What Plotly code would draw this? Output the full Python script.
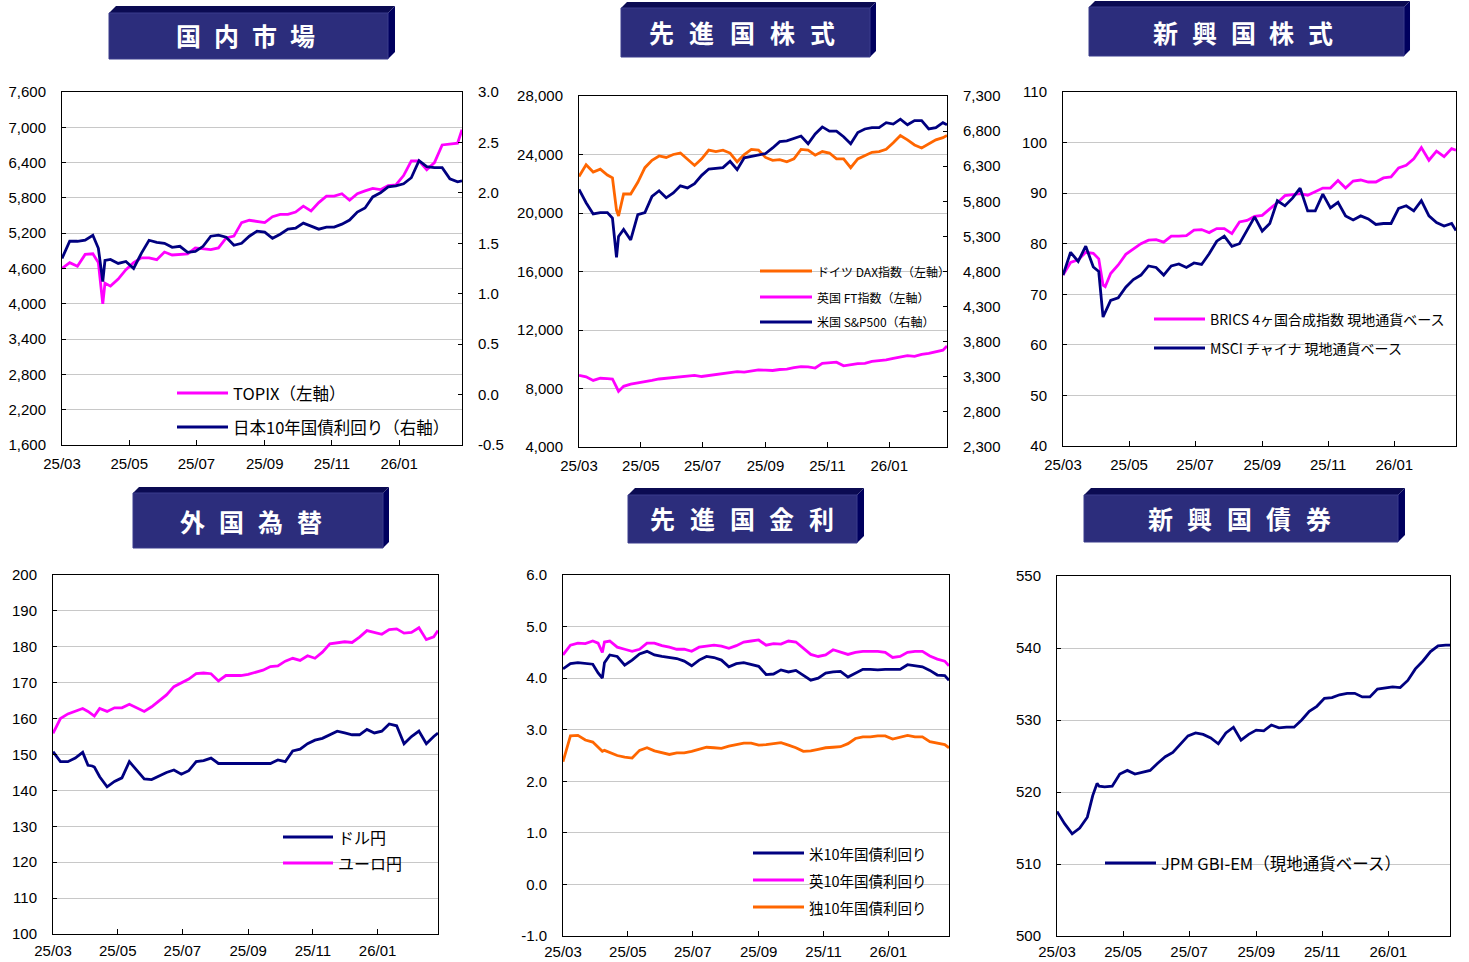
import plotly.graph_objects as go

# ---------------- data ----------------
dates = [
    "2025-03-01", "2025-03-08", "2025-03-15", "2025-03-22", "2025-03-29",
    "2025-04-03", "2025-04-07", "2025-04-09", "2025-04-14", "2025-04-21",
    "2025-04-28", "2025-05-05", "2025-05-12", "2025-05-19", "2025-05-26",
    "2025-06-02", "2025-06-09", "2025-06-16", "2025-06-23", "2025-06-30",
    "2025-07-07", "2025-07-14", "2025-07-21", "2025-07-28", "2025-08-04",
    "2025-08-11", "2025-08-18", "2025-08-25", "2025-09-01", "2025-09-08",
    "2025-09-15", "2025-09-22", "2025-09-29", "2025-10-06", "2025-10-13",
    "2025-10-20", "2025-10-27", "2025-11-03", "2025-11-10", "2025-11-17",
    "2025-11-24", "2025-12-01", "2025-12-08", "2025-12-15", "2025-12-22",
    "2025-12-29", "2026-01-05", "2026-01-12", "2026-01-19", "2026-01-26",
    "2026-02-02", "2026-02-09", "2026-02-16", "2026-02-23", "2026-02-27",
]

topix = [4600, 4700, 4640, 4840, 4850, 4700, 4000, 4350, 4300, 4420,
         4580, 4700, 4780, 4780, 4750, 4880, 4830, 4840, 4850, 4950,
         4930, 4920, 4950, 5120, 5150, 5380, 5420, 5400, 5380, 5480,
         5520, 5520, 5560, 5660, 5580, 5720, 5830, 5830, 5870, 5760,
         5870, 5920, 5960, 5940, 6010, 6020, 6180, 6430, 6430, 6280,
         6400, 6700, 6720, 6730, 6960]
jgb10 = [1.35, 1.52, 1.52, 1.53, 1.58, 1.45, 1.12, 1.33, 1.34, 1.30,
         1.32, 1.25, 1.40, 1.53, 1.51, 1.50, 1.46, 1.47, 1.41, 1.42,
         1.47, 1.57, 1.58, 1.56, 1.48, 1.50, 1.57, 1.62, 1.61, 1.55,
         1.59, 1.64, 1.65, 1.70, 1.67, 1.64, 1.66, 1.66, 1.69, 1.73,
         1.81, 1.85, 1.96, 2.00, 2.06, 2.07, 2.09, 2.15, 2.32, 2.26,
         2.25, 2.25, 2.14, 2.11, 2.12]

dax = [22500, 23300, 22800, 23000, 22600, 22400, 20200, 19800, 21300, 21300,
       22100, 23100, 23600, 23900, 23800, 24000, 24100, 23700, 23250, 23700,
       24300, 24200, 24300, 24100, 23500, 24000, 24350, 24300, 23800, 23600,
       23650, 23500, 23700, 24350, 24300, 23950, 24200, 24100, 23700, 23700,
       23100, 23700, 23950, 24150, 24200, 24350, 24800, 25300, 25000, 24650,
       24450, 24750, 25000, 25150, 25300]
ftse = [8900, 8800, 8550, 8700, 8680, 8650, 8100, 7800, 8150, 8300,
        8380, 8450, 8550, 8650, 8700, 8750, 8800, 8830, 8900, 8820,
        8880, 8950, 9000, 9080, 9150, 9120, 9200, 9270, 9250, 9230,
        9300, 9330, 9420, 9500, 9480, 9400, 9720, 9750, 9800, 9550,
        9650, 9700, 9720, 9850, 9900, 9950, 10060, 10150, 10250, 10200,
        10330, 10400, 10500, 10620, 10900]
spx = [5970, 5780, 5620, 5640, 5640, 5560, 5000, 5300, 5400, 5250,
       5610, 5640, 5870, 5950, 5850, 5920, 6020, 5990, 6050, 6170,
       6260, 6270, 6280, 6370, 6250, 6420, 6440, 6450, 6480, 6560,
       6650, 6660, 6700, 6730, 6620, 6760, 6860, 6800, 6800, 6720,
       6620, 6780, 6830, 6850, 6850, 6920, 6900, 6970, 6890, 6950,
       6950, 6830, 6850, 6920, 6890]

brics = [73.8, 76.3, 76.8, 78.3, 78.1, 77.0, 71.8, 71.5, 74.1, 75.8,
         77.9, 79.0, 80.0, 80.7, 80.8, 80.3, 81.5, 81.5, 81.6, 82.7,
         82.8, 82.2, 83.0, 83.0, 82.0, 84.3, 84.6, 85.4, 85.6, 86.9,
         88.1, 89.5, 89.7, 89.9, 89.6, 90.3, 91.0, 91.0, 92.5, 91.0,
         92.4, 92.6, 92.2, 92.2, 93.0, 93.2, 95.0, 95.5, 96.8, 99.0,
         96.5, 98.3, 97.2, 98.8, 98.5]
msci_china = [73.8, 78.3, 76.5, 79.5, 75.4, 74.5, 65.5, 66.5, 68.8, 69.3,
              71.4, 72.9, 73.8, 75.6, 75.3, 73.8, 75.6, 76.0, 75.3, 76.2,
              75.9, 78.0, 80.5, 81.5, 79.5, 80.0, 82.6, 85.3, 82.5, 84.0,
              88.5, 87.5, 89.0, 91.0, 86.5, 86.5, 89.8, 87.1, 88.2, 85.5,
              84.7, 85.5, 84.9, 83.8, 84.0, 84.0, 87.0, 87.5, 86.5, 88.5,
              85.5, 84.2, 83.5, 84.0, 82.6]

usdjpy = [150.8, 148.0, 148.0, 149.0, 150.6, 147.0, 146.8, 146.5, 143.8, 141.0,
          142.5, 143.5, 148.0, 145.5, 143.2, 143.0, 144.0, 145.0, 145.7, 144.5,
          145.5, 148.0, 148.3, 149.0, 147.5, 147.5, 147.5, 147.4, 147.6, 147.5,
          147.4, 147.5, 148.5, 148.0, 151.0, 151.5, 153.0, 154.0, 154.5, 155.5,
          156.5, 156.0, 155.5, 155.5, 157.0, 156.0, 156.5, 158.5, 158.0, 153.0,
          155.0, 156.5, 153.0, 155.0, 156.0]
eurjpy = [155.9, 160.0, 161.3, 162.0, 162.8, 162.0, 161.0, 160.7, 162.8, 162.0,
          163.0, 163.0, 164.0, 163.0, 162.0, 163.3, 165.0, 166.6, 168.9, 169.9,
          171.0, 172.5, 172.7, 172.5, 170.5, 172.0, 172.0, 172.0, 172.3, 173.0,
          173.5, 174.5, 174.7, 176.0, 176.8, 176.2, 177.5, 176.8, 178.5, 180.8,
          181.1, 181.4, 181.2, 182.7, 184.5, 184.0, 183.5, 184.8, 185.0, 183.8,
          184.0, 185.3, 182.0, 182.8, 184.5]

us10y = [4.18, 4.28, 4.30, 4.28, 4.27, 4.10, 4.00, 4.30, 4.45, 4.42,
         4.25, 4.35, 4.47, 4.52, 4.45, 4.42, 4.40, 4.38, 4.33, 4.24,
         4.35, 4.42, 4.40, 4.35, 4.22, 4.28, 4.30, 4.26, 4.23, 4.07,
         4.08, 4.16, 4.12, 4.15, 4.05, 3.96, 4.00, 4.10, 4.12, 4.13,
         4.02, 4.10, 4.17, 4.17, 4.16, 4.17, 4.17, 4.17, 4.26, 4.24,
         4.22, 4.15, 4.06, 4.05, 3.96]
uk10y = [4.45, 4.64, 4.68, 4.67, 4.72, 4.68, 4.50, 4.70, 4.72, 4.60,
         4.56, 4.52, 4.56, 4.68, 4.68, 4.63, 4.60, 4.56, 4.56, 4.52,
         4.60, 4.62, 4.64, 4.62, 4.58, 4.63, 4.70, 4.72, 4.74, 4.64,
         4.67, 4.66, 4.72, 4.70, 4.58, 4.46, 4.42, 4.45, 4.55, 4.50,
         4.46, 4.50, 4.52, 4.52, 4.52, 4.50, 4.40, 4.42, 4.50, 4.52,
         4.52, 4.43, 4.37, 4.33, 4.24]
de10y = [2.38, 2.88, 2.89, 2.80, 2.76, 2.65, 2.58, 2.60, 2.56, 2.50,
         2.47, 2.45, 2.60, 2.65, 2.59, 2.56, 2.52, 2.55, 2.55, 2.58,
         2.62, 2.66, 2.65, 2.64, 2.68, 2.71, 2.74, 2.74, 2.70, 2.71,
         2.73, 2.75, 2.70, 2.65, 2.58, 2.59, 2.62, 2.65, 2.66, 2.67,
         2.73, 2.83, 2.86, 2.86, 2.88, 2.88, 2.82, 2.86, 2.89, 2.86,
         2.86, 2.77, 2.74, 2.71, 2.65]

gbi_em = [517.3, 515.6, 514.2, 515.0, 516.5, 519.5, 521.2, 520.8, 520.7, 520.8,
          522.5, 523.0, 522.5, 522.8, 523.0, 524.0, 524.9, 525.5, 526.6, 527.8,
          528.2, 528.0, 527.5, 526.7, 528.2, 529.0, 527.2, 528.0, 528.6, 528.5,
          529.3, 528.9, 529.0, 529.0, 530.0, 531.2, 531.9, 533.0, 533.1, 533.5,
          533.7, 533.7, 533.2, 533.2, 534.3, 534.5, 534.6, 534.5, 535.5, 537.1,
          538.2, 539.5, 540.3, 540.4, 540.4]

titles = ["国内市場", "先進国株式", "新興国株式", "外国為替", "先進国金利", "新興国債券"]
jgb_ticks = [3.0, 2.5, 2.0, 1.5, 1.0, 0.5, 0.0, -0.5]
rate_ticks = [6.0, 5.0, 4.0, 3.0, 2.0, 1.0, 0.0, -1.0]

# ---------------- styling / layout constants ----------------
W, H = 1469, 962
NAVY = "#000080"
MAGENTA = "#FF00FF"
ORANGE = "#FF6600"
GRID = "#C8C8C8"
TICKFONT = dict(family="Arial, 'Liberation Sans', sans-serif", size=15, color="black")
CJK = "'Noto Sans CJK JP', 'Noto Sans', sans-serif"
X_RANGE = ["2025-03-01", "2026-02-27"]


def fx(px):
    return px / W


def fy(py):
    return 1 - py / H


def xaxis(x0, x1, anchor, standoff=5):
    return dict(domain=[fx(x0), fx(x1)], anchor=anchor, type="date", range=X_RANGE,
                tickformat="%y/%m", dtick="M2", tick0="2025-03-01",
                ticks="inside", ticklen=5, tickcolor="black",
                showline=True, linecolor="black", linewidth=1, mirror=True,
                showgrid=False, zeroline=False, tickfont=TICKFONT,
                ticklabelstandoff=standoff, automargin=False)


def yaxis(y0, y1, anchor, rng, dtick, fmt=",d", **kw):
    d = dict(domain=[fy(y1), fy(y0)], anchor=anchor, range=rng, dtick=dtick,
             tick0=rng[0], tickformat=fmt, ticks="inside", ticklen=4, tickcolor="black",
             showline=True, linecolor="black", linewidth=1, mirror=True,
             showgrid=True, gridcolor=GRID, gridwidth=1, zeroline=False,
             tickfont=TICKFONT, ticklabelstandoff=12, automargin=False)
    d.update(kw)
    return d


fig = go.Figure()


def line(x, y, color, xa, ya):
    fig.add_trace(go.Scatter(x=x, y=y, mode="lines", xaxis=xa, yaxis=ya,
                             line=dict(color=color, width=2.8),
                             showlegend=False, hoverinfo="skip"))


# Panel 1: domestic
line(dates, topix, MAGENTA, "x", "y")
line(dates, jgb10, NAVY, "x", "y2")
# Panel 2: developed equities
line(dates, dax, ORANGE, "x2", "y3")
line(dates, ftse, MAGENTA, "x2", "y3")
line(dates, spx, NAVY, "x2", "y4")
# Panel 3: emerging equities
line(dates, brics, MAGENTA, "x3", "y5")
line(dates, msci_china, NAVY, "x3", "y5")
# Panel 4: FX
line(dates, usdjpy, NAVY, "x4", "y6")
line(dates, eurjpy, MAGENTA, "x4", "y6")
# Panel 5: developed rates
line(dates, us10y, NAVY, "x5", "y7")
line(dates, uk10y, MAGENTA, "x5", "y7")
line(dates, de10y, ORANGE, "x5", "y7")
# Panel 6: EM bonds
line(dates, gbi_em, NAVY, "x6", "y8")

layout = dict(
    width=W, height=H, margin=dict(l=0, r=0, t=0, b=0, autoexpand=False),
    paper_bgcolor="white", plot_bgcolor="white",
    font=dict(family="Arial, 'Liberation Sans', " + CJK, color="black"),
    showlegend=False,
    xaxis=xaxis(62, 462, "y"),
    yaxis=yaxis(92, 445, "x", [1600, 7600], 600),
    yaxis2=yaxis(92, 445, "x", [-0.5, 3.0], 0.5, overlaying="y", side="right",
                 showgrid=False, tickmode="array", tickvals=jgb_ticks,
                 ticktext=[f"{v:.1f}" for v in jgb_ticks], mirror=False),
    xaxis2=xaxis(579, 947, "y3"),
    yaxis3=yaxis(96, 447, "x2", [4000, 28000], 4000),
    yaxis4=yaxis(96, 447, "x2", [2300, 7300], 500, overlaying="y3", side="right",
                 showgrid=False, mirror=False),
    xaxis3=xaxis(1063, 1456, "y5"),
    yaxis5=yaxis(92, 446, "x3", [40, 110], 10),
    xaxis4=xaxis(53, 438, "y6", 3),
    yaxis6=yaxis(575, 934, "x4", [100, 200], 10),
    xaxis5=xaxis(563, 949, "y7", 2),
    yaxis7=yaxis(575, 936, "x5", [-1.0, 6.0], 1.0, tickmode="array",
                 tickvals=rate_ticks, ticktext=[f"{v:.1f}" for v in rate_ticks]),
    xaxis6=xaxis(1057, 1450, "y8", 2),
    yaxis8=yaxis(576, 936, "x6", [500, 550], 10),
)
fig.update_layout(**layout)

shapes = []
annotations = []

# ---------------- title boxes ----------------
# (face x0, face x1, face y0, face y1, bevel depth, centre x of text, char pitch, text y)
boxes = [
    (109, 388, 13, 59, 7, 245, 38.0, 35),
    (621, 870, 8, 57, 6, 742, 40.2, 32),
    (1089, 1404, 7, 56, 6, 1243, 38.8, 32),
    (133, 383, 493, 548, 6, 251, 39.2, 521),
    (628, 857, 495, 543, 7, 742, 39.6, 518),
    (1084, 1398, 495, 542, 7, 1239, 39.5, 518),
]


def path(points):
    s = "M " + " L ".join(f"{fx(px):.5f},{fy(py):.5f}" for px, py in points) + " Z"
    return s


for (bx0, bx1, by0, by1, dep, cx, pitch, ty), title in zip(boxes, titles):
    # top bevel
    shapes.append(dict(type="path", xref="paper", yref="paper",
                       path=path([(bx0, by0), (bx0 + dep, by0 - dep), (bx1 + dep, by0 - dep), (bx1, by0)]),
                       fillcolor="#0B0B52", line=dict(width=0)))
    # right side
    shapes.append(dict(type="path", xref="paper", yref="paper",
                       path=path([(bx1, by0), (bx1 + dep, by0 - dep), (bx1 + dep, by1 - dep), (bx1, by1)]),
                       fillcolor="#00005E", line=dict(width=0)))
    # face
    shapes.append(dict(type="rect", xref="paper", yref="paper",
                       x0=fx(bx0), x1=fx(bx1), y0=fy(by1), y1=fy(by0),
                       fillcolor="#2C2D7C", line=dict(color="#3A3C8C", width=1)))
    n = len(title)
    for i, ch in enumerate(title):
        px = cx + (i - (n - 1) / 2) * pitch
        annotations.append(dict(xref="paper", yref="paper", x=fx(px), y=fy(ty),
                                text=ch, showarrow=False, xanchor="center", yanchor="middle",
                                font=dict(family=CJK, size=25, color="white", weight=700)))

# ---------------- legends (drawn as keys) ----------------
legends = [
    # (line x0, line x1, y, text, colour, font size)
    (177, 228, 393, "TOPIX（左軸）", MAGENTA, 16.5),
    (177, 228, 427, "日本10年国債利回り（右軸）", NAVY, 16.5),
    (760, 812, 271, "ドイツ DAX指数（左軸）", ORANGE, 12),
    (760, 812, 297, "英国 FT指数（左軸）", MAGENTA, 12),
    (760, 812, 322, "米国 S&P500（右軸）", NAVY, 12),
    (1154, 1205, 319, "BRICS 4ヶ国合成指数 現地通貨ベース", MAGENTA, 14),
    (1154, 1205, 348, "MSCI チャイナ 現地通貨ベース", NAVY, 14),
    (283, 333, 837, "ドル円", NAVY, 16),
    (283, 333, 863, "ユーロ円", MAGENTA, 16),
    (753, 804, 853, "米10年国債利回り", NAVY, 14.5),
    (753, 804, 880, "英10年国債利回り", MAGENTA, 14.5),
    (753, 804, 907, "独10年国債利回り", ORANGE, 14.5),
    (1105, 1156, 863, "JPM GBI-EM（現地通貨ベース）", NAVY, 16.5),
]
for lx0, lx1, ly, txt, col, fs in legends:
    shapes.append(dict(type="line", xref="paper", yref="paper",
                       x0=fx(lx0), x1=fx(lx1), y0=fy(ly), y1=fy(ly),
                       line=dict(color=col, width=3)))
    annotations.append(dict(xref="paper", yref="paper", x=fx(lx1 + 3), y=fy(ly),
                            text=txt, showarrow=False, xanchor="left", yanchor="middle",
                            font=dict(family=CJK, size=fs, color="black")))

fig.update_layout(shapes=shapes, annotations=annotations)
fig.write_html(
    "out.html",
    config={"displayModeBar": False},
    post_script="document.body.style.margin='0';document.body.style.overflow='hidden';",
)
